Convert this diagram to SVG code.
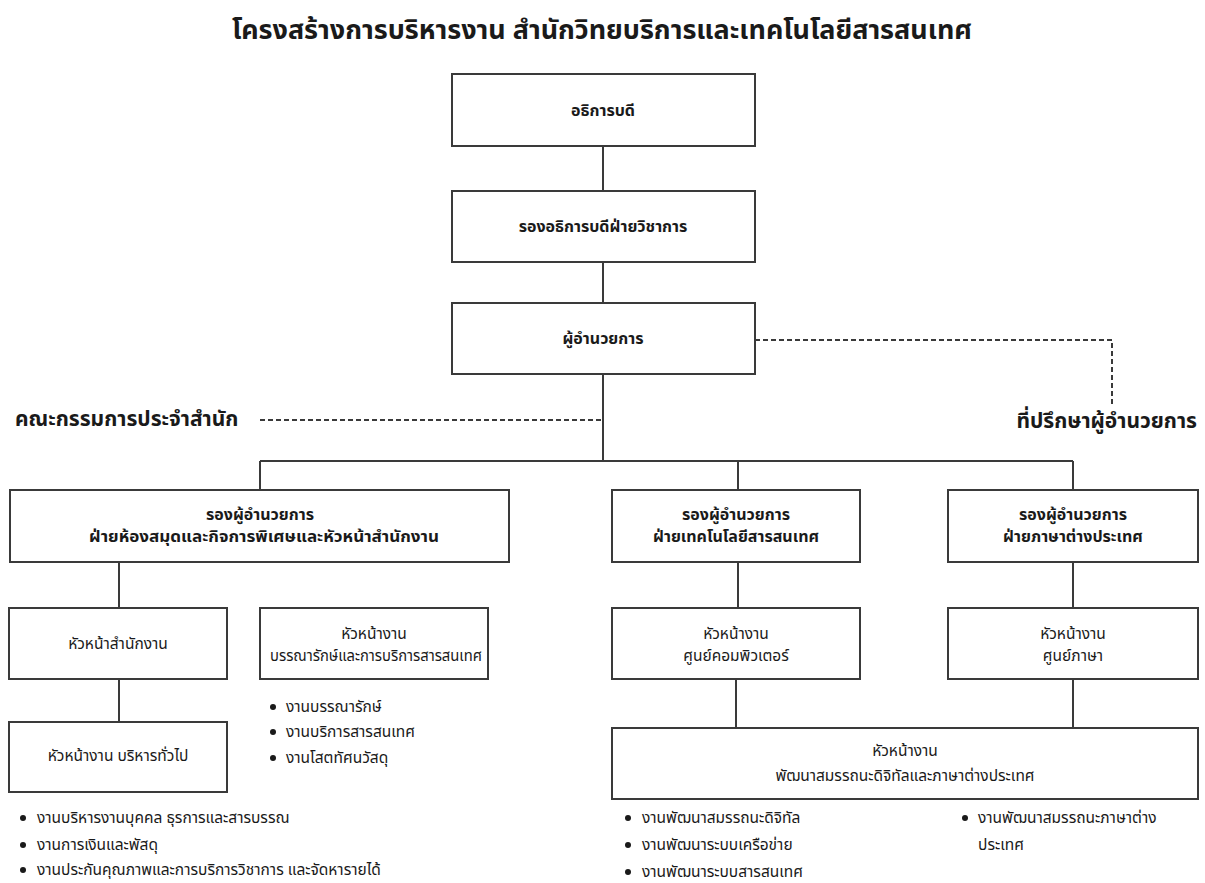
<svg xmlns="http://www.w3.org/2000/svg" width="1205" height="883" viewBox="0 0 1205 883">
<style>
text{font-family:"Noto Sans Thai","Noto Sans Thai Looped","Noto Sans","DejaVu Sans",sans-serif;fill:#1a1a1a}
.title{font-size:27px;font-weight:700}
.side{font-size:21px;font-weight:700}
.b{font-size:16px;font-weight:700}
.r{font-size:15.5px}
.li{font-size:15.5px}
.box{fill:#fff;stroke:#3a3a3a;stroke-width:2}
.ln{stroke:#3a3a3a;stroke-width:2;fill:none}
.dash{stroke:#3a3a3a;stroke-width:2;fill:none;stroke-dasharray:5 3}
.dot{fill:#1a1a1a}
</style>
<rect width="1205" height="883" fill="#fff"/>
<text class="title" x="602" y="39" text-anchor="middle" textLength="740" lengthAdjust="spacingAndGlyphs">โครงสร้างการบริหารงาน สำนักวิทยบริการและเทคโนโลยีสารสนเทศ</text>
<g id="connectors">
<path class="ln" d="M603 146V191M603 262V303M603 374V461M260 461H1073M260 461V490M738 461V490M1073 461V490M119 562V608M119 679V722M738 562V608M1073 562V608M736 679V728M1073 679V728"/>
<path class="dash" d="M260 420H603M755 340H1112V405"/>
</g>
<g id="n-rector"><rect class="box" x="452" y="74" width="303" height="72"/><text class="b" x="603" y="116" text-anchor="middle">อธิการบดี</text></g>
<g id="n-vp"><rect class="box" x="452" y="191" width="303" height="71"/><text class="b" x="603" y="232" text-anchor="middle">รองอธิการบดีฝ่ายวิชาการ</text></g>
<g id="n-dir"><rect class="box" x="452" y="303" width="303" height="71"/><text class="b" x="603" y="344" text-anchor="middle">ผู้อำนวยการ</text></g>
<g id="n-committee"><text class="side" x="15" y="426">คณะกรรมการประจำสำนัก</text></g>
<g id="n-advisor"><text class="side" x="1197" y="428" text-anchor="end">ที่ปรึกษาผู้อำนวยการ</text></g>
<g id="n-dep1"><rect class="box" x="10" y="490" width="499" height="72"/><text class="b" x="260" y="520" text-anchor="middle">รองผู้อำนวยการ</text><text class="b" x="264" y="542" text-anchor="middle" textLength="350" lengthAdjust="spacingAndGlyphs">ฝ่ายห้องสมุดและกิจการพิเศษและหัวหน้าสำนักงาน</text></g>
<g id="n-dep2"><rect class="box" x="612" y="490" width="248" height="72"/><text class="b" x="736" y="520" text-anchor="middle">รองผู้อำนวยการ</text><text class="b" x="736" y="542" text-anchor="middle">ฝ่ายเทคโนโลยีสารสนเทศ</text></g>
<g id="n-dep3"><rect class="box" x="948" y="490" width="250" height="72"/><text class="b" x="1073" y="520" text-anchor="middle">รองผู้อำนวยการ</text><text class="b" x="1073" y="542" text-anchor="middle">ฝ่ายภาษาต่างประเทศ</text></g>
<g id="n-office"><rect class="box" x="9" y="608" width="218" height="71"/><text class="r" x="118" y="649" text-anchor="middle">หัวหน้าสำนักงาน</text></g>
<g id="n-lib"><rect class="box" x="260" y="608" width="228" height="71"/><text class="r" x="374" y="639" text-anchor="middle">หัวหน้างาน</text><text class="r" x="376" y="661" text-anchor="middle" textLength="212" lengthAdjust="spacingAndGlyphs">บรรณารักษ์และการบริการสารสนเทศ</text>
<text class="li" x="286" y="712">งานบรรณารักษ์</text><text class="li" x="286" y="737">งานบริการสารสนเทศ</text><text class="li" x="286" y="763">งานโสตทัศนวัสดุ</text>
<circle class="dot" cx="273" cy="707" r="3"/><circle class="dot" cx="273" cy="732" r="3"/><circle class="dot" cx="273" cy="758" r="3"/></g>
<g id="n-comp"><rect class="box" x="612" y="608" width="248" height="71"/><text class="r" x="736" y="639" text-anchor="middle">หัวหน้างาน</text><text class="r" x="736" y="661" text-anchor="middle">ศูนย์คอมพิวเตอร์</text></g>
<g id="n-lang"><rect class="box" x="948" y="608" width="250" height="71"/><text class="r" x="1073" y="639" text-anchor="middle">หัวหน้างาน</text><text class="r" x="1073" y="661" text-anchor="middle">ศูนย์ภาษา</text></g>
<g id="n-admin"><rect class="box" x="9" y="722" width="218" height="70"/><text class="r" x="118" y="761" text-anchor="middle">หัวหน้างาน บริหารทั่วไป</text>
<text class="li" x="37" y="823">งานบริหารงานบุคคล ธุรการและสารบรรณ</text><text class="li" x="37" y="850">งานการเงินและพัสดุ</text><text class="li" x="37" y="875">งานประกันคุณภาพและการบริการวิชาการ และจัดหารายได้</text>
<circle class="dot" cx="23" cy="818" r="3"/><circle class="dot" cx="23" cy="845" r="3"/><circle class="dot" cx="23" cy="870" r="3"/></g>
<g id="n-dev"><rect class="box" x="612" y="728" width="586" height="71"/><text class="r" x="905" y="756" text-anchor="middle">หัวหน้างาน</text><text class="r" x="905" y="781" text-anchor="middle">พัฒนาสมรรถนะดิจิทัลและภาษาต่างประเทศ</text>
<text class="li" x="642" y="823">งานพัฒนาสมรรถนะดิจิทัล</text><text class="li" x="642" y="850">งานพัฒนาระบบเครือข่าย</text><text class="li" x="642" y="877">งานพัฒนาระบบสารสนเทศ</text>
<circle class="dot" cx="628" cy="818" r="3"/><circle class="dot" cx="628" cy="845" r="3"/><circle class="dot" cx="628" cy="872" r="3"/>
<text class="li" x="978" y="823">งานพัฒนาสมรรถนะภาษาต่าง</text><text class="li" x="978" y="850">ประเทศ</text>
<circle class="dot" cx="965" cy="818" r="3"/></g>
</svg>
